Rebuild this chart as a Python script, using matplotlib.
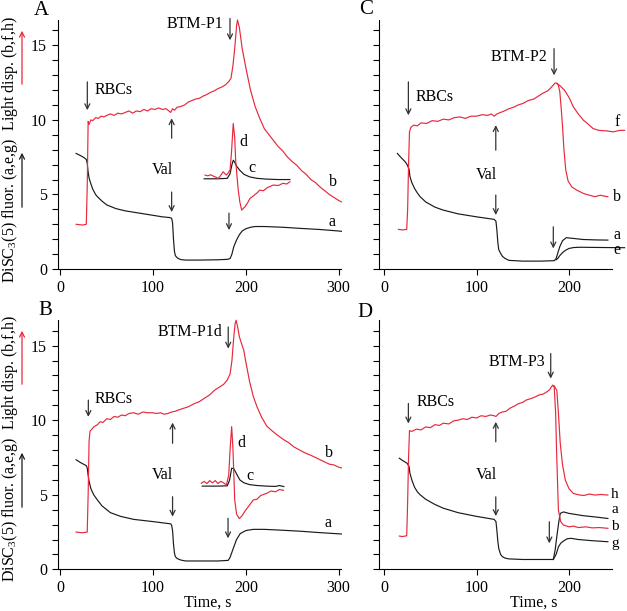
import matplotlib
matplotlib.use("Agg")
import matplotlib.pyplot as plt
from matplotlib.ticker import MultipleLocator, FuncFormatter

plt.rcParams['font.family'] = ['Liberation Serif', 'DejaVu Serif']
plt.rcParams['mathtext.fontset'] = 'custom'
plt.rcParams['mathtext.rm'] = 'Liberation Serif'
plt.rcParams['mathtext.it'] = 'Liberation Serif:italic'

RED = '#e8283c'
BLACK = '#1a1a1a'
ARROW = '#333333'

# ---- panel A : BTM-P1 ----
A_b_x = [17, 24, 28, 29, 30, 31, 33, 35, 38, 41, 44, 47, 50, 54, 58, 62, 66, 70, 74, 78,
         82, 86, 90, 94, 98, 102, 106, 110, 114, 117, 119, 121, 123, 126, 130, 134, 138, 142, 146, 150,
         154, 158, 162, 166, 170, 174, 178, 182, 184, 186, 188, 190, 191, 193, 196, 200, 205, 210, 215, 220,
         225, 230, 235, 240, 245, 250, 255, 260, 265, 270, 275, 280, 285, 290, 295, 300, 303]
A_b_y = [3.0, 2.95, 3.0, 5.5, 9.9, 9.7, 10.0, 9.95, 10.15, 10.1, 10.25, 10.2, 10.3, 10.4, 10.3, 10.45, 10.4, 10.5, 10.6, 10.45,
         10.6, 10.55, 10.7, 10.6, 10.75, 10.7, 10.8, 10.7, 10.75, 10.6, 10.5, 10.75, 10.65, 10.85, 10.9, 11.0, 11.2, 11.3, 11.4, 11.45,
         11.6, 11.7, 11.85, 11.95, 12.1, 12.2, 12.35, 12.6, 12.8, 13.6, 14.8, 16.3, 16.7, 16.2, 14.8, 13.5, 12.0, 10.9, 10.1, 9.4,
         9.0, 8.6, 8.2, 7.9, 7.5, 7.2, 6.95, 6.6, 6.35, 6.0, 5.8, 5.5, 5.25, 5.0, 4.8, 4.6, 4.5]
A_a_x = [17, 22, 26, 28, 29, 30, 31, 33, 35, 38, 40, 45, 50, 60, 70, 80, 90, 100, 110, 118,
         120, 121, 122, 123, 124, 126, 128, 130, 135, 150, 170, 180, 183, 185, 187, 190, 193, 196, 200, 205,
         210, 220, 240, 260, 280, 300, 303]
A_a_y = [7.75, 7.6, 7.45, 7.35, 7.1, 6.5, 6.1, 5.7, 5.35, 5.0, 4.85, 4.55, 4.3, 4.05, 3.9, 3.8, 3.7, 3.6, 3.5, 3.45,
         3.4, 3.1, 2.0, 1.2, 0.9, 0.75, 0.68, 0.63, 0.6, 0.6, 0.62, 0.65, 0.7, 1.0, 1.5, 1.95, 2.3, 2.55, 2.7, 2.8,
         2.85, 2.85, 2.8, 2.72, 2.65, 2.55, 2.53]
A_c_x = [155, 170, 180, 183, 185, 186.5, 188, 190, 193.5, 198, 204, 212, 222, 235, 247.5]
A_c_y = [6.05, 6.05, 6.08, 6.4, 7.0, 7.3, 7.15, 6.9, 6.62, 6.35, 6.18, 6.08, 6.03, 6.0, 6.0]
A_d_x = [156, 159, 162, 165, 168, 170, 172, 175.5, 179, 181, 183, 184.5, 186.4, 188, 189, 190.5, 191.8, 193.5, 195.5, 199,
         202, 204.4, 208, 212, 215, 219, 223, 229.5, 235, 240, 244, 247.5]
A_d_y = [6.3, 6.25, 6.32, 6.23, 6.15, 6.07, 6.2, 6.52, 6.3, 6.45, 6.65, 7.8, 9.76, 8.8, 7.3, 6.2, 5.29, 4.5, 3.95, 4.17,
         4.45, 4.73, 4.9, 5.1, 5.29, 5.25, 5.45, 5.63, 5.6, 5.75, 5.7, 5.85]

# ---- panel B : BTM-P1d ----
B_b_x = [17, 24, 29, 30, 31, 32, 34, 36, 40, 43, 46, 50, 54, 58, 62, 66, 70, 74, 79, 84,
         89, 94, 99, 104, 108, 112, 116, 120, 124, 128, 133, 138, 144, 150, 156, 161, 166, 171, 176, 180,
         183, 185, 187, 188.5, 189.5, 191, 193, 195, 197.7, 200, 204, 208, 212, 217, 222.6, 228, 234, 240.6, 246, 252,
         258, 264, 270, 275, 280, 285, 290, 295, 300, 303]
B_b_y = [2.5, 2.45, 2.5, 5.0, 8.6, 9.25, 9.4, 9.55, 9.7, 9.9, 9.85, 10.1, 10.05, 10.25, 10.2, 10.35, 10.3, 10.45, 10.5, 10.4,
         10.55, 10.5, 10.5, 10.45, 10.5, 10.4, 10.45, 10.55, 10.6, 10.7, 10.8, 10.9, 11.1, 11.25, 11.5, 11.7, 12.0, 12.2, 12.4, 12.7,
         13.1, 14.0, 15.6, 16.5, 16.7, 16.3, 15.6, 15.2, 14.7, 13.9, 12.6, 11.6, 10.9, 10.2, 9.6, 9.3, 9.0, 8.7, 8.5, 8.2,
         8.0, 7.8, 7.65, 7.5, 7.35, 7.2, 7.05, 7.0, 6.85, 6.8]
B_a_x = [17, 22, 28, 29, 30, 31, 33, 36, 40, 45, 54, 65, 79, 100, 119, 120, 121, 122, 123, 124,
         126, 130, 135, 150, 170, 181, 183, 185, 187, 190, 194, 200, 208, 220, 240, 260, 280, 303]
B_a_y = [7.35, 7.15, 6.95, 6.8, 6.3, 5.9, 5.4, 5.0, 4.65, 4.25, 3.8, 3.55, 3.35, 3.2, 3.05, 2.95, 2.6, 1.7, 1.1, 0.85,
         0.72, 0.62, 0.56, 0.56, 0.56, 0.6, 0.8, 1.15, 1.5, 2.0, 2.4, 2.6, 2.68, 2.68, 2.62, 2.55, 2.46, 2.37]
B_c_x = [153, 170, 180, 182.5, 184.7, 187, 190, 193.6, 198, 204, 212, 222, 232, 236, 241]
B_c_y = [5.58, 5.58, 5.6, 6.0, 6.78, 6.75, 6.4, 5.99, 5.8, 5.68, 5.62, 5.58, 5.56, 5.62, 5.55]
B_d_x = [152, 155, 158, 161, 164, 167, 170, 173, 176, 179, 181.5, 183, 184.7, 186, 188, 190, 193, 196, 199, 202,
         205, 208, 212, 216, 222.6, 227, 232, 236, 240.6]
B_d_y = [5.77, 5.9, 5.75, 5.95, 5.8, 5.95, 5.75, 5.9, 5.8, 5.66, 6.3, 8.0, 9.57, 8.2, 4.65, 3.7, 3.4, 3.6, 3.9, 4.15,
         4.4, 4.65, 4.7, 4.95, 5.1, 5.25, 5.2, 5.35, 5.3]

# ---- panel C : BTM-P2 ----
C_f_x = [15.5, 20, 24.5, 25.5, 26.5, 27.5, 29, 32, 36, 40, 46, 52, 58, 64, 70, 76, 82, 88, 94, 100,
         106, 112, 116, 119, 122, 126, 130, 135, 140, 145, 150, 156, 162, 167, 172, 177, 181, 185, 187, 190,
         195, 200, 204.7, 210, 215.5, 221, 226, 232, 240.5, 248, 255, 260]
C_f_y = [2.66, 2.62, 2.66, 4.0, 7.0, 9.2, 9.5, 9.65, 9.6, 9.8, 9.76, 9.95, 9.9, 10.05, 10.0, 10.15, 10.2, 10.1, 10.25, 10.25,
         10.35, 10.3, 10.4, 10.25, 10.4, 10.5, 10.6, 10.75, 10.85, 11.0, 11.1, 11.3, 11.4, 11.6, 11.8, 11.95, 12.2, 12.48, 12.45, 12.3,
         12.0, 11.5, 10.87, 10.4, 9.98, 9.7, 9.42, 9.3, 9.26, 9.2, 9.3, 9.3]
C_b_x = [187, 188.5, 190, 191.5, 193, 194.5, 196.5, 199, 203, 208, 215.5, 222, 228, 234, 237, 242]
C_b_y = [12.45, 12.3, 11.9, 10.8, 9.53, 8.0, 6.63, 5.9, 5.51, 5.3, 5.07, 4.95, 4.85, 4.95, 4.9, 4.85]
C_a_x = [14.4, 18, 22.7, 25, 27, 28, 30, 33, 36, 39, 45, 55, 64, 80, 100, 119, 121, 122, 123, 124,
         126, 128, 131, 135, 150, 170, 184, 186, 188, 190, 193, 197, 205, 215, 230, 242]
C_a_y = [7.75, 7.5, 7.2, 7.0, 6.7, 6.2, 5.8, 5.4, 5.1, 4.85, 4.5, 4.15, 3.95, 3.7, 3.5, 3.33, 3.2, 2.6, 1.8, 1.3,
         1.05, 0.85, 0.7, 0.58, 0.53, 0.53, 0.56, 0.7, 1.1, 1.5, 1.9, 2.1, 2.05, 1.98, 1.95, 1.94]
C_e_x = [186, 188, 190, 193, 196, 200, 205, 212, 225, 240, 260]
C_e_y = [0.62, 0.72, 0.9, 1.1, 1.25, 1.38, 1.44, 1.46, 1.45, 1.44, 1.43]

# ---- panel D : BTM-P3 ----
D_h_x = [16.5, 20, 24.5, 25.5, 26.5, 27.5, 30, 35, 40, 45, 50, 55, 60, 64, 70, 75, 80, 85, 90, 95,
         100, 105, 110, 115, 119, 121, 124, 128, 132, 136, 141, 145, 150, 154, 159, 163, 168, 172, 176, 179,
         181, 182.4, 184, 186.8, 188.5, 190.5, 193, 196, 200, 204.6, 210, 216, 222, 228, 234, 242]
D_h_y = [2.23, 2.2, 2.25, 4.5, 7.5, 9.3, 9.25, 9.4, 9.35, 9.55, 9.5, 9.7, 9.65, 9.8, 9.75, 9.95, 10.0, 10.1, 10.05, 10.2,
         10.15, 10.3, 10.25, 10.35, 10.3, 10.25, 10.45, 10.55, 10.6, 10.8, 10.95, 11.1, 11.2, 11.36, 11.45, 11.55, 11.7, 11.75, 11.9, 12.05,
         12.25, 12.34, 12.3, 12.0, 10.5, 8.44, 7.0, 5.98, 5.4, 5.09, 5.0, 4.95, 5.05, 4.98, 5.02, 4.98]
D_b_x = [182.4, 184, 185.5, 186.5, 188.5, 191, 194, 200, 205, 210, 218, 225, 233, 242]
D_b_y = [12.34, 12.2, 10.5, 8.0, 3.97, 3.2, 2.97, 2.85, 2.9, 2.8, 2.85, 2.78, 2.8, 2.75]
D_a_x = [16.5, 20, 25, 27, 28, 30, 33, 36, 39, 45, 55, 64, 80, 100, 119, 121, 122, 123, 124, 126,
         128, 131, 135, 150, 170, 183, 185, 187, 189, 190.5, 194, 200, 215, 230, 242]
D_a_y = [7.45, 7.3, 7.11, 6.9, 6.44, 6.0, 5.5, 5.2, 5.0, 4.7, 4.35, 4.1, 3.8, 3.55, 3.35, 3.2, 2.6, 1.9, 1.4, 1.0,
         0.85, 0.75, 0.7, 0.66, 0.66, 0.66, 1.3, 2.3, 3.2, 3.75, 3.85, 3.75, 3.6, 3.5, 3.41]
D_g_x = [183, 186, 188.5, 191, 194, 198, 202, 210, 225, 242]
D_g_y = [0.66, 1.0, 1.5, 1.75, 1.9, 2.05, 2.08, 2.0, 1.92, 1.85]

ylabel = 'DiSC$_3$(5) fluor. (a,e,g)  Light disp. (b,f,h)'
FS = 11.5


def style_axes(ax, xlim, xticks, ylabels):
    ax.set_xlim(*xlim)
    ax.set_ylim(0, 16.7)
    ax.spines['top'].set_visible(False)
    ax.spines['right'].set_visible(False)
    ax.spines['left'].set_linewidth(0.8)
    ax.spines['bottom'].set_linewidth(0.8)
    ax.set_xticks(xticks)
    ax.yaxis.set_major_locator(MultipleLocator(1))
    if ylabels:
        ax.yaxis.set_major_formatter(FuncFormatter(lambda v, p: '%d' % v if round(v) % 5 == 0 else ''))
    else:
        ax.set_yticklabels([])
    ax.tick_params(direction='out', length=4, width=0.8, labelsize=FS, pad=4)


def arrow(ax, x, y_from, y_to):
    ax.annotate('', xy=(x, y_to), xytext=(x, y_from),
                arrowprops=dict(arrowstyle='->', color=ARROW, lw=0.9,
                                shrinkA=0, shrinkB=0, mutation_scale=9))


def line(ax, x, y, color):
    ax.plot(x, y, color=color, lw=0.85, clip_on=False)


fig = plt.figure(figsize=(6.27, 6.11), dpi=100)
axA = fig.add_axes([0.0925, 0.5597, 0.452, 0.4076])
axB = fig.add_axes([0.0925, 0.0682, 0.452, 0.4076])
axC = fig.add_axes([0.605, 0.5597, 0.3707, 0.4076])
axD = fig.add_axes([0.605, 0.0682, 0.3707, 0.4076])

# panel A
line(axA, A_a_x, A_a_y, BLACK)
line(axA, A_b_x, A_b_y, RED)
line(axA, A_c_x, A_c_y, BLACK)
line(axA, A_d_x, A_d_y, RED)
style_axes(axA, (-2.5, 303), [0, 100, 200, 300], True)
arrow(axA, 29.1, 12.55, 10.65)
axA.text(37, 12.0, 'RBCs', fontsize=FS, va='center')
arrow(axA, 182.9, 16.8, 15.34)
axA.text(175.5, 16.45, 'BTM-P1', fontsize=FS, va='center', ha='right')
arrow(axA, 120, 8.77, 10.11)
axA.text(110, 6.63, 'Val', fontsize=FS, va='center', ha='center')
arrow(axA, 120, 5.16, 3.82)
arrow(axA, 181.8, 3.75, 2.61)
axA.text(294.4, 5.85, 'b', fontsize=FS, va='center', ha='center')
axA.text(292.5, 3.17, 'a', fontsize=FS, va='center', ha='center')
axA.text(197, 8.5, 'd', fontsize=FS, va='center', ha='center')
axA.text(206.6, 6.76, 'c', fontsize=FS, va='center', ha='center')

# panel B
line(axB, B_a_x, B_a_y, BLACK)
line(axB, B_b_x, B_b_y, RED)
line(axB, B_c_x, B_c_y, BLACK)
line(axB, B_d_x, B_d_y, RED)
style_axes(axB, (-2.5, 303), [0, 100, 200, 300], True)
arrow(axB, 30.2, 11.35, 10.22)
axB.text(37, 11.45, 'RBCs', fontsize=FS, va='center')
arrow(axB, 181, 16.25, 14.8)
axB.text(174.5, 15.9, 'BTM-P1d', fontsize=FS, va='center', ha='right')
arrow(axB, 121, 8.45, 9.84)
axB.text(110, 6.3, 'Val', fontsize=FS, va='center', ha='center')
arrow(axB, 121, 4.87, 3.53)
arrow(axB, 180.8, 3.42, 2.08)
axB.text(290, 7.77, 'b', fontsize=FS, va='center', ha='center')
axB.text(288.8, 3.08, 'a', fontsize=FS, va='center', ha='center')
axB.text(195.5, 8.44, 'd', fontsize=FS, va='center', ha='center')
axB.text(204.4, 6.25, 'c', fontsize=FS, va='center', ha='center')
axB.set_xlabel('Time, s', fontsize=FS)
axB.xaxis.set_label_coords(0.529, -0.1)

# panel C
line(axC, C_a_x, C_a_y, BLACK)
line(axC, C_e_x, C_e_y, BLACK)
line(axC, C_f_x, C_f_y, RED)
line(axC, C_b_x, C_b_y, RED)
style_axes(axC, (-5.1, 246.2), [0, 100, 200], False)
arrow(axC, 26.3, 12.55, 10.31)
axC.text(34.6, 11.54, 'RBCs', fontsize=FS, va='center')
arrow(axC, 183.8, 14.78, 12.99)
axC.text(176.2, 14.22, 'BTM-P2', fontsize=FS, va='center', ha='right')
arrow(axC, 120.8, 7.97, 9.65)
axC.text(110.5, 6.3, 'Val', fontsize=FS, va='center', ha='center')
arrow(axC, 120.8, 4.96, 3.62)
arrow(axC, 183, 2.83, 1.38)
for lab, yy in [('f', 9.87), ('b', 4.84), ('a', 2.3), ('e', 1.25)]:
    axC.text(251.9, yy, lab, fontsize=FS, va='center', ha='center', clip_on=False)

# panel D
line(axD, D_a_x, D_a_y, BLACK)
line(axD, D_g_x, D_g_y, BLACK)
line(axD, D_h_x, D_h_y, RED)
line(axD, D_b_x, D_b_y, RED)
style_axes(axD, (-5.1, 246.2), [0, 100, 200], False)
arrow(axD, 26.3, 11.12, 9.78)
axD.text(35.4, 11.23, 'RBCs', fontsize=FS, va='center')
arrow(axD, 180.2, 14.47, 12.79)
axD.text(174, 13.9, 'BTM-P3', fontsize=FS, va='center', ha='right')
arrow(axD, 120.8, 8.55, 9.89)
axD.text(111, 6.32, 'Val', fontsize=FS, va='center', ha='center')
arrow(axD, 120.8, 4.86, 3.57)
arrow(axD, 178.7, 3.19, 1.74)
for lab, yy in [('h', 5.02), ('a', 4.0), ('b', 2.9), ('g', 1.72)]:
    axD.text(249.7, yy, lab, fontsize=FS - 0.5, va='center', ha='center', clip_on=False)
axD.set_xlabel('Time, s', fontsize=FS)
axD.xaxis.set_label_coords(0.666, -0.1)

# panel letters
fig.text(0.066, 0.982, 'A', fontsize=15, ha='center', va='center')
fig.text(0.073, 0.491, 'B', fontsize=15, ha='center', va='center')
fig.text(0.584, 0.984, 'C', fontsize=15, ha='center', va='center')
fig.text(0.582, 0.489, 'D', fontsize=15, ha='center', va='center')

# y labels with coloured arrows
for yc, red_a, blk_a in [(0.756, (0.8576, 0.9542), (0.6563, 0.7545)),
                         (0.266, (0.3666, 0.4632), (0.1653, 0.2635))]:
    fig.text(0.016, yc, ylabel, rotation=90, fontsize=FS, ha='center', va='center')
    fig.patches.append(matplotlib.patches.FancyArrowPatch(
        (0.0351, red_a[0]), (0.0351, red_a[1]), transform=fig.transFigure,
        arrowstyle='->', color=RED, lw=0.9, mutation_scale=9))
    fig.patches.append(matplotlib.patches.FancyArrowPatch(
        (0.0351, blk_a[0]), (0.0351, blk_a[1]), transform=fig.transFigure,
        arrowstyle='->', color=BLACK, lw=0.9, mutation_scale=9))

fig.savefig('out.png', dpi=100)
